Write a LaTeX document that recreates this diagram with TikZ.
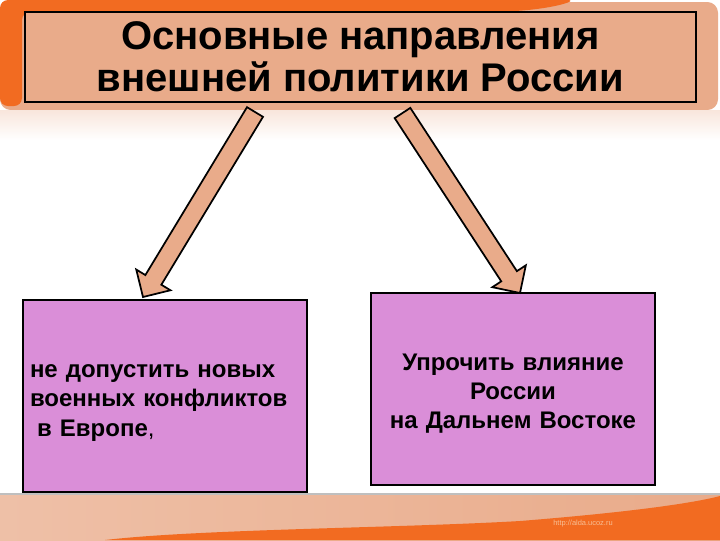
\documentclass[tikz,border=0pt]{standalone}
\usepackage{fontspec}
\setmainfont{Liberation Sans}
\usetikzlibrary{calc}

\definecolor{bandorange}{HTML}{F26B21}
\definecolor{peach}{HTML}{E9AB8A}
\definecolor{orchid}{HTML}{DA8ED8}
\definecolor{watermark}{HTML}{F7BE94}

% block arrow from tail centre #1 to tip #2
\newcommand{\blockarrow}[2]{%
  \coordinate (#2-base) at ($(#2)!15pt!(#1)$);
  \draw [arrowbody]
    ($(#1)!7pt!90:(#2)$) -- ($(#1)!7pt!-90:(#2)$)
    -- ($(#2-base)!7pt!-90:(#2)$) -- ($(#2-base)!15pt!-90:(#2)$)
    -- (#2)
    -- ($(#2-base)!15pt!90:(#2)$) -- ($(#2-base)!7pt!90:(#2)$) -- cycle;
}

\begin{document}
\begin{tikzpicture}[x=0.75pt,y=0.75pt,yscale=-1,xscale=1,
  titlebox/.style={draw=black, line width=1.2pt, fill=peach, inner sep=0pt,
    minimum width=503.25pt, minimum height=67.5pt, align=center,
    font=\fontsize{30}{31.5}\selectfont\bfseries},
  infobox/.style={draw=black, line width=1.8pt, fill=orchid, inner sep=0pt,
    minimum width=213pt, minimum height=144pt},
  boxtext/.style={inner sep=0pt, text width=202.5pt,
    font=\fontsize{18}{21.8}\selectfont\bfseries},
  arrowbody/.style={draw=black, line width=1.3pt, fill=peach, line join=miter}]
\useasboundingbox (0,0) rectangle (720,540);

%Shape: Top band
\fill [peach, rounded corners=8pt] (0,2) rectangle (718,110);
\fill [bandorange, rounded corners=6pt] (0,0) -- (0,106) -- (22,106) -- (22,12) -- (490,12)
  .. controls (530,11) and (555,7) .. (575,0) -- cycle;
\shade [top color=peach!30, bottom color=white] (0,110) rectangle (720,140);

%Shape: Bottom band
\shade [left color=peach!75!white, right color=peach] (0,494) rectangle (720,540);
\draw [line width=1.5pt, color=black!25] (0,494) -- (720,494);
\fill [bandorange] (105,540) .. controls (200,529) and (400,528) .. (520,521)
  .. controls (620,513) and (690,504) .. (720,496) -- (720,540) -- cycle;
% Text Node
\node [text=watermark, font=\fontsize{5.6}{6}\selectfont] (site) at (583,524) {http://alda.ucoz.ru};

% Title Box
\node [titlebox] (title) at (360.5,57) {Основные направления\\внешней политики России};

% Left Box
\node [infobox] (europe) at (165,396) {};
\node [boxtext, align=left] (europe-text) at ([yshift=5.25pt]europe.center)
  {не допустить новых\\военных конфликтов\\\hspace*{0.3em}в Европе{\mdseries,}};
% Right Box
\node [infobox] (east) at (513,389) {};
\node [boxtext, align=center] (east-text) at ([yshift=3.75pt]east.center)
  {Упрочить влияние\\России\\на Дальнем Востоке};

% Arrows
\coordinate (westtail) at (255,112);
\coordinate (westtip) at (143,297);
\coordinate (easttail) at (402.5,113);
\coordinate (easttip) at (520,293);
\blockarrow{westtail}{westtip}
\blockarrow{easttail}{easttip}

\end{tikzpicture}
\end{document}
